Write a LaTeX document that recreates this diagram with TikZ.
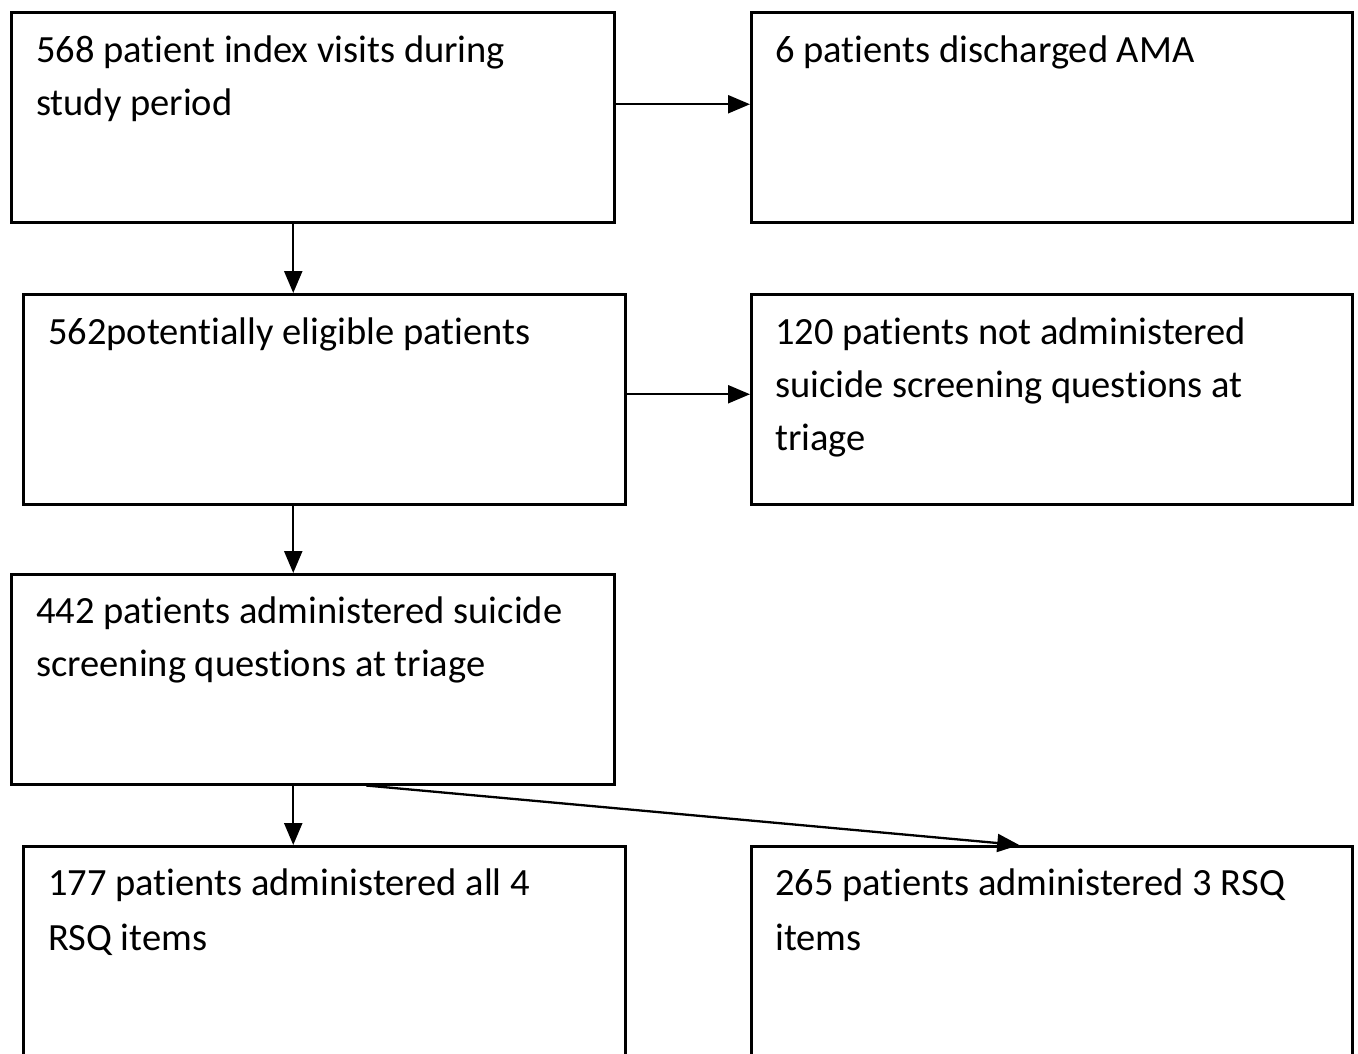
\documentclass[tikz,border=0pt]{standalone}
\usepackage{fontspec}
\setmainfont{Carlito}[Ligatures={NoCommon,NoDiscretionary,NoRare}]
\usetikzlibrary{arrows.meta}
\begin{document}
\begin{tikzpicture}[x=1pt,y=-1pt,
  box/.style={draw, line width=2.5pt, rectangle, anchor=north west,
    minimum width=603pt, minimum height=210pt, inner sep=0pt},
  txt/.style={anchor=north west, align=left, inner sep=0pt,
    font=\fontsize{38.5}{53}\selectfont},
  txtb/.style={txt, font=\fontsize{38.5}{55}\selectfont},
  arr/.style={line width=2.3pt, -{Triangle[length=22pt,width=18pt]}}]
\useasboundingbox (0,0) rectangle (1358,1053);
% boxes
\node[box] (a) at (10,11) {};
\node[box, minimum width=601pt] (b) at (750,11) {};
\node[box, minimum width=602pt] (c) at (22,293) {};
\node[box, minimum width=601pt] (d) at (750,293) {};
\node[box] (e) at (10,573) {};
\node[box, minimum width=602pt, minimum height=220pt] (f) at (22,845) {};
\node[box, minimum width=601pt, minimum height=220pt] (g) at (750,845) {};
% texts
\node[txt] (at) at (36,32) {\rule{0pt}{30pt}568 patient index visits during\\study period};
\node[txt] (bt) at (775,32) {\rule{0pt}{30pt}6 patients discharged AMA};
\node[txt] (ct) at (48,314) {\rule{0pt}{30pt}562potentially eligible patients};
\node[txt] (dt) at (775,314) {\rule{0pt}{30pt}120 patients not administered\\suicide screening questions at\\triage};
\node[txt] (et) at (36,593) {\rule{0pt}{30pt}442 patients administered suicide\\screening questions at triage};
\node[txtb] (ft) at (48,865) {\rule{0pt}{30pt}177 patients administered all 4\\RSQ items};
\node[txtb] (gt) at (775,865) {\rule{0pt}{30pt}265 patients administered 3 RSQ\\items};
% connectors
\draw[arr] ([yshift=13pt]a.east) -- ([yshift=13pt]b.west);
\draw[arr] ([yshift=5pt]c.east) -- ([yshift=5pt]d.west);
\draw[arr] ([xshift=-19.5pt]a.south) -- ([xshift=-19.5pt]a.south |- c.north);
\draw[arr] ([xshift=-31pt]c.south) -- ([xshift=-31pt]c.south |- e.north);
\draw[arr] ([xshift=-19.5pt]e.south) -- ([xshift=-19.5pt]e.south |- f.north);
\draw[arr] ([xshift=53.5pt]e.south) -- ([xshift=-32.5pt]g.north);
\end{tikzpicture}
\end{document}
